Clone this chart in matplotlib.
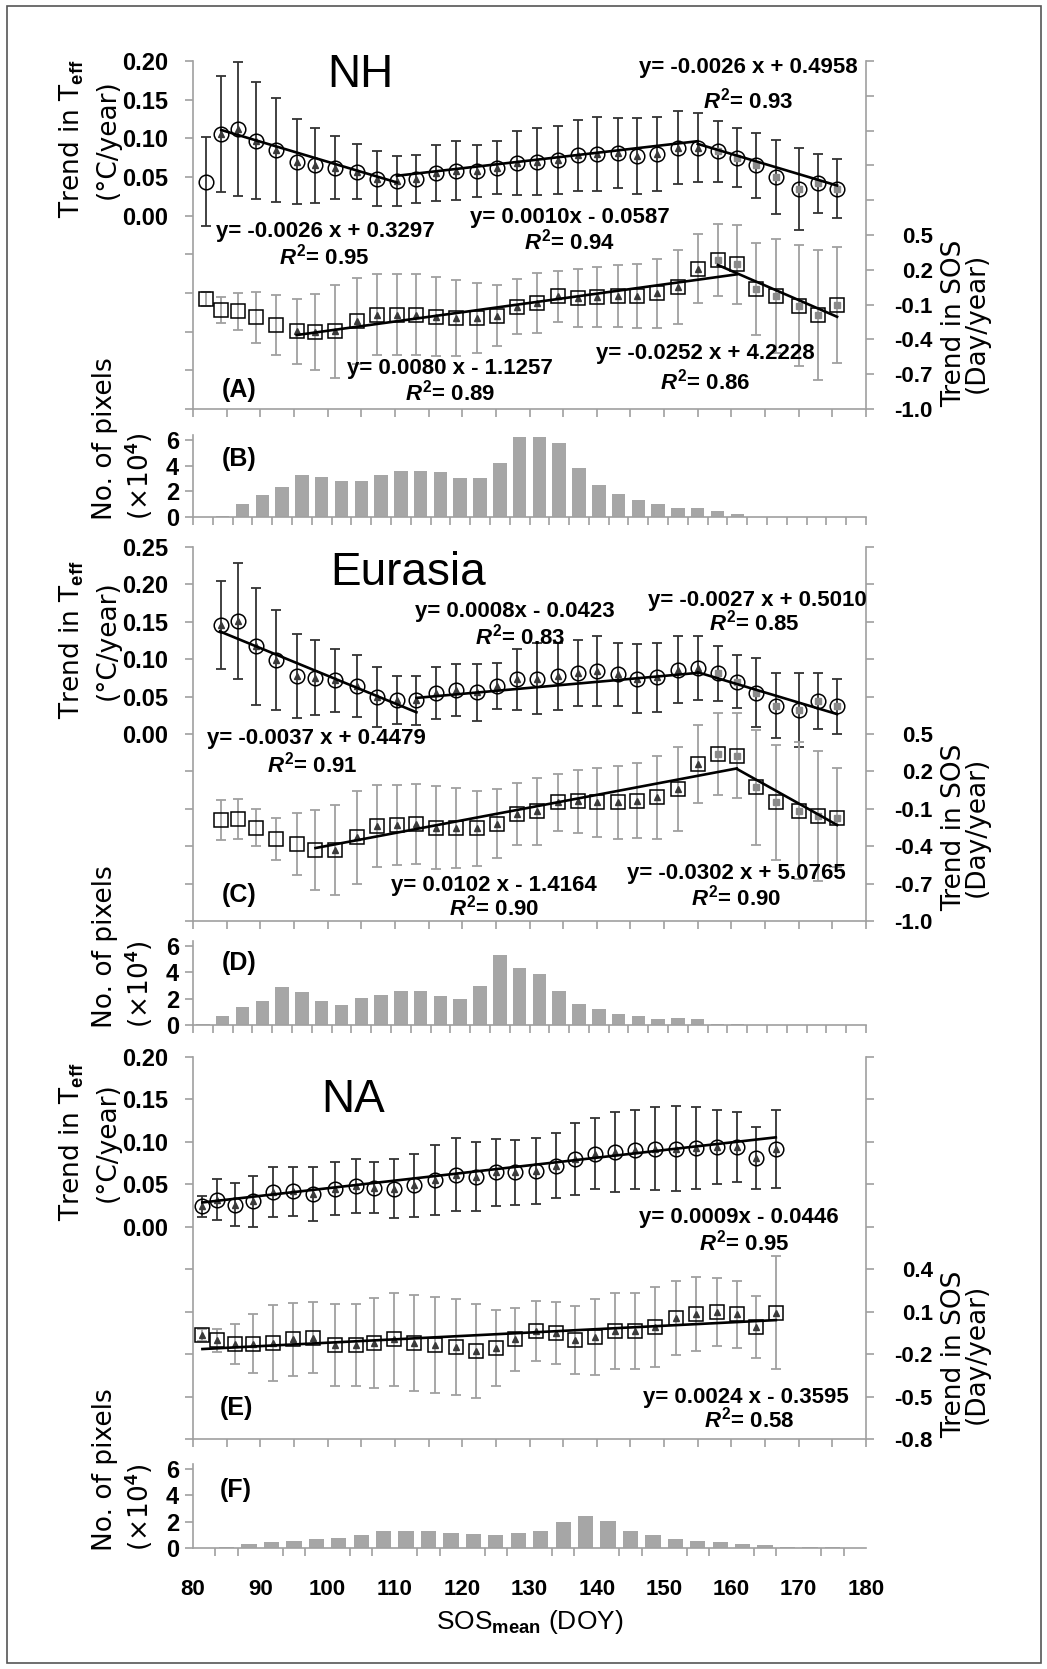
import matplotlib
matplotlib.use("Agg")
import matplotlib.pyplot as plt
import numpy as np
from matplotlib.patches import Rectangle
from matplotlib.ticker import FuncFormatter

W, H = 1047, 1669
L, R = 193, 866  # x of left / right spines in pixels

BOLD = ['Liberation Sans', 'DejaVu Sans']
PLAIN = ['DejaVu Sans']

plt.rcParams['font.family'] = BOLD
plt.rcParams['font.weight'] = 'bold'
plt.rcParams['mathtext.fontset'] = 'custom'
plt.rcParams['mathtext.rm'] = 'Liberation Sans:bold'
plt.rcParams['mathtext.it'] = 'Liberation Sans:italic:bold'
plt.rcParams['mathtext.bf'] = 'Liberation Sans:bold'

# ---------------- data ----------------
# NH (panels A, B)
nh_x = [82.0, 84.2, 86.7, 89.4, 92.3, 95.4, 98.2, 101.1, 104.4, 107.3, 110.3, 113.2, 116.1, 119.1, 122.2, 125.2,
        128.2, 131.1, 134.2, 137.2, 140.1, 143.1, 146.0, 149.0, 152.0, 155.0, 158.0, 160.8, 163.7, 166.6, 170.0,
        172.9, 175.7]
nh_teff = [0.044, 0.105, 0.112, 0.097, 0.085, 0.070, 0.065, 0.062, 0.057, 0.048, 0.045, 0.047, 0.055, 0.058, 0.058,
           0.062, 0.068, 0.070, 0.072, 0.078, 0.080, 0.081, 0.077, 0.080, 0.088, 0.088, 0.083, 0.075, 0.065, 0.050,
           0.035, 0.042, 0.035]
nh_teff_err = [0.058, 0.075, 0.087, 0.076, 0.067, 0.055, 0.048, 0.041, 0.036, 0.035, 0.032, 0.031, 0.036, 0.038,
               0.034, 0.034, 0.041, 0.043, 0.044, 0.046, 0.048, 0.045, 0.049, 0.048, 0.047, 0.045, 0.039, 0.038,
               0.042, 0.048, 0.053, 0.038, 0.038]
nh_teff_grp = "n" + "t" * 25 + "s" * 7
nh_sos = [-0.050, -0.146, -0.157, -0.209, -0.274, -0.329, -0.337, -0.329, -0.243, -0.186, -0.186, -0.186, -0.203,
          -0.214, -0.217, -0.194, -0.117, -0.089, -0.029, -0.046, -0.037, -0.026, -0.026, -0.003, 0.049, 0.211,
          0.283, 0.249, 0.034, -0.023, -0.109, -0.186, -0.100]
nh_sos_err = [0.06, 0.11, 0.16, 0.22, 0.26, 0.28, 0.33, 0.40, 0.37, 0.35, 0.35, 0.35, 0.34, 0.33, 0.30, 0.26, 0.24,
              0.26, 0.22, 0.25, 0.26, 0.27, 0.28, 0.30, 0.32, 0.30, 0.31, 0.34, 0.40, 0.49, 0.52, 0.56, 0.50]
nh_sos_grp = "n" * 5 + "t" * 21 + "s" * 7
nh_teff_fits = [(-0.0026, 0.3297, 84.2, 110.3), (0.0010, -0.0587, 110.3, 155.0), (-0.0026, 0.4958, 155.0, 175.7)]
nh_sos_fits = [(0.0080, -1.1257, 95.4, 160.8), (-0.0252, 4.2228, 158.0, 175.7)]
nh_pixels = [0, 0.05, 1.0, 1.7, 2.3, 3.3, 3.1, 2.8, 2.8, 3.3, 3.6, 3.6, 3.5, 3.0, 3.0, 4.2, 6.2, 6.2, 5.8, 3.8, 2.5,
             1.8, 1.3, 1.0, 0.7, 0.7, 0.5, 0.2, 0, 0, 0, 0, 0, 0]

# Eurasia (panels C, D)
eu_x = nh_x[1:]
eu_teff = [0.146, 0.151, 0.117, 0.099, 0.078, 0.075, 0.072, 0.064, 0.050, 0.046, 0.045, 0.055, 0.059, 0.056, 0.064,
           0.073, 0.074, 0.077, 0.081, 0.084, 0.080, 0.074, 0.076, 0.086, 0.088, 0.081, 0.070, 0.055, 0.038, 0.032,
           0.044, 0.037]
eu_teff_err = [0.059, 0.078, 0.078, 0.067, 0.056, 0.050, 0.042, 0.041, 0.040, 0.032, 0.033, 0.035, 0.035, 0.038,
               0.031, 0.041, 0.047, 0.045, 0.044, 0.047, 0.042, 0.046, 0.046, 0.045, 0.043, 0.037, 0.035, 0.046,
               0.044, 0.049, 0.037, 0.037]
eu_teff_grp = "t" * 25 + "s" * 7
eu_sos = [-0.191, -0.183, -0.250, -0.344, -0.384, -0.432, -0.432, -0.330, -0.236, -0.228, -0.223, -0.250, -0.255,
          -0.255, -0.218, -0.143, -0.121, -0.049, -0.041, -0.049, -0.049, -0.036, -0.009, 0.058, 0.259, 0.340,
          0.326, 0.072, -0.049, -0.116, -0.156, -0.170]
eu_sos_err = [0.16, 0.16, 0.15, 0.17, 0.25, 0.32, 0.36, 0.37, 0.33, 0.32, 0.32, 0.33, 0.32, 0.30, 0.28, 0.25, 0.27,
              0.23, 0.25, 0.28, 0.29, 0.30, 0.33, 0.34, 0.31, 0.33, 0.34, 0.46, 0.46, 0.55, 0.52, 0.40]
eu_sos_grp = "n" * 6 + "t" * 19 + "s" * 7
eu_teff_fits = [(-0.0037, 0.4479, 84.0, 113.2), (0.0008, -0.0423, 113.2, 155.0), (-0.0027, 0.5010, 155.0, 175.7)]
eu_sos_fits = [(0.0102, -1.4164, 98.2, 160.8), (-0.0302, 5.0765, 160.8, 175.7)]
eu_pixels = [0.1, 0.7, 1.35, 1.8, 2.9, 2.5, 1.8, 1.55, 2.05, 2.3, 2.55, 2.55, 2.2, 1.95, 3.0, 5.3, 4.3, 3.9, 2.55,
             1.6, 1.2, 0.85, 0.65, 0.45, 0.5, 0.45, 0.1, 0.05, 0, 0, 0, 0, 0, 0]

# NA (panels E, F)
na_x = [81.4, 83.5, 86.3, 88.9, 91.9, 94.9, 97.9, 101.1, 104.2, 106.9, 109.9, 112.8, 116.0, 119.1, 122.0, 125.0,
        127.9, 130.9, 133.9, 136.8, 139.8, 142.7, 145.7, 148.7, 151.8, 154.8, 157.8, 160.8, 163.7, 166.6]
na_teff = [0.024, 0.032, 0.026, 0.030, 0.041, 0.042, 0.039, 0.045, 0.048, 0.046, 0.045, 0.049, 0.055, 0.061, 0.059,
           0.064, 0.064, 0.066, 0.072, 0.080, 0.086, 0.088, 0.091, 0.092, 0.092, 0.093, 0.094, 0.094, 0.081, 0.092]
na_teff_err = [0.012, 0.024, 0.025, 0.030, 0.029, 0.029, 0.032, 0.031, 0.032, 0.030, 0.035, 0.037, 0.041, 0.043,
               0.041, 0.039, 0.038, 0.039, 0.038, 0.042, 0.042, 0.047, 0.046, 0.049, 0.050, 0.048, 0.044, 0.041,
               0.037, 0.046]
na_teff_grp = "t" * 30
na_sos = [-0.066, -0.103, -0.127, -0.127, -0.120, -0.096, -0.085, -0.136, -0.136, -0.120, -0.096, -0.120, -0.136,
          -0.151, -0.179, -0.155, -0.096, -0.038, -0.049, -0.103, -0.080, -0.038, -0.038, -0.009, 0.057, 0.085,
          0.099, 0.080, -0.009, 0.092]
na_sos_err = [0.04, 0.08, 0.14, 0.21, 0.27, 0.26, 0.25, 0.29, 0.29, 0.32, 0.33, 0.34, 0.34, 0.34, 0.33, 0.27, 0.22,
              0.21, 0.22, 0.24, 0.27, 0.27, 0.27, 0.28, 0.26, 0.26, 0.24, 0.24, 0.22, 0.40]
na_sos_grp = "t" * 30
na_teff_fits = [(0.0009, -0.0446, 81.4, 166.6)]
na_sos_fits = [(0.0024, -0.3595, 81.4, 166.6)]
na_pixels = [0.03, 0.1, 0.3, 0.45, 0.55, 0.65, 0.75, 0.95, 1.3, 1.3, 1.3, 1.15, 1.05, 0.95, 1.15, 1.3, 1.95, 2.45,
             2.05, 1.3, 0.95, 0.65, 0.55, 0.45, 0.3, 0.2, 0.1, 0.1, 0.05, 0.03]

SPINE = '#a0a0a0'

fig = plt.figure(figsize=(W / 100, H / 100), dpi=100)


def add_axes(top, bottom):
    return fig.add_axes([L / W, 1 - bottom / H, (R - L) / W, (bottom - top) / H])


def ftext(x, y, s, **kw):
    fig.text(x / W, 1 - y / H, s, **kw)


def style_spines(ax, keep):
    for side in ['left', 'right', 'top', 'bottom']:
        ax.spines[side].set_visible(side in keep)
        ax.spines[side].set_color(SPINE)
        ax.spines[side].set_linewidth(1.2)


def draw_series(ax, x, y, err, grp, shape, ecolor, ms):
    x = np.asarray(x)
    y = np.asarray(y)
    ax.errorbar(x, y, yerr=err, fmt='none', ecolor=ecolor, elinewidth=1.3, capsize=3.5, capthick=1.3, zorder=2)
    ax.plot(x, y, shape, ms=ms, mfc='none', mec='black', mew=1.1, zorder=3)
    g = np.array(list(grp))
    ax.plot(x[g == 't'], y[g == 't'], '^', ms=4.5, color='#3a3a3a', zorder=3)
    ax.plot(x[g == 's'], y[g == 's'], 's', ms=5, color='#8a8a8a', zorder=3)


def draw_fits(ax, fits):
    for k, b, x0, x1 in fits:
        xs = np.array([x0, x1])
        ax.plot(xs, k * xs + b, color='black', lw=1.9, zorder=4)


def trend_panel(top, bottom, tlim, slim, s_label_max, data, fits):
    x, teff, teff_err, tgrp, sos, sos_err, sgrp = data
    ax = add_axes(top, bottom)
    ax.set_xlim(80, 180)
    ax.set_ylim(*tlim)
    ax.set_yticks(np.round(np.arange(tlim[0], tlim[1] + 1e-9, 0.05), 2))

    def lfmt(v, p):
        if abs(v) < 1e-9:
            v = 0.0
        return f"{v:.2f}" if v >= 0 else ""
    ax.yaxis.set_major_formatter(FuncFormatter(lfmt))
    ax.set_xticks(np.arange(80, 181, 5))
    ax.set_xticklabels([])
    style_spines(ax, ['left', 'bottom'])
    ax.tick_params(axis='y', direction='out', length=6, width=1.2, color=SPINE, pad=12, labelsize=17)
    ax.tick_params(axis='x', direction='out', length=6, width=1.2, color=SPINE)

    ax2 = ax.twinx()
    ax2.set_ylim(*slim)
    ax2.set_yticks(np.round(np.arange(slim[0], slim[1] + 1e-9, 0.3), 2))
    ax2.yaxis.set_major_formatter(FuncFormatter(
        lambda v, p: f"{v:.1f}" if v <= s_label_max + 1e-9 else ""))
    style_spines(ax2, ['right'])
    ax2.tick_params(axis='y', direction='out', length=6, width=1.2, color=SPINE, pad=42, labelsize=16)
    for t in ax2.yaxis.get_major_ticks():
        t.label2.set_horizontalalignment('right')

    draw_series(ax, x, teff, teff_err, tgrp, 'o', '#333333', 10.5)
    draw_series(ax2, x, sos, sos_err, sgrp, 's', '#a0a0a0', 10)
    draw_fits(ax, fits[0])
    draw_fits(ax2, fits[1])
    return ax


def bar_panel(six_px, zero_px, vals, labels=False):
    per = (zero_px - six_px) / 6.0
    top = zero_px - 6.4 * per
    ax = add_axes(top, zero_px)
    n = len(vals)
    bw = 100.0 / n
    centers = 80 + bw * (np.arange(n) + 0.5)
    ax.bar(centers, vals, width=bw * 0.68, color='#a6a6a6', zorder=2)
    ax.set_xlim(80, 180)
    ax.set_ylim(0, 6.4)
    ax.set_yticks([0, 2, 4, 6])
    style_spines(ax, ['left', 'bottom'])
    ax.set_xticks(80 + bw * np.arange(n + 1), minor=True)
    if labels:
        ax.set_xticks(np.arange(80, 181, 10))
        ax.set_xticklabels([str(v) for v in range(80, 181, 10)])
    else:
        ax.set_xticks([])
    ax.tick_params(axis='y', direction='out', length=6, width=1.2, color=SPINE, pad=4, labelsize=17)
    ax.tick_params(axis='x', which='minor', direction='out', length=6, width=1.2, color=SPINE)
    ax.tick_params(axis='x', which='major', length=0, pad=22, labelsize=16)
    return ax


# panels A / B
trend_panel(61, 409, (-0.25, 0.20), (-1.0, 2.0), 0.5,
            (nh_x, nh_teff, nh_teff_err, nh_teff_grp, nh_sos, nh_sos_err, nh_sos_grp),
            (nh_teff_fits, nh_sos_fits))
bar_panel(440, 517, nh_pixels)

# panels C / D
trend_panel(547, 921, (-0.25, 0.25), (-1.0, 2.0), 0.5,
            (eu_x, eu_teff, eu_teff_err, eu_teff_grp, eu_sos, eu_sos_err, eu_sos_grp),
            (eu_teff_fits, eu_sos_fits))
bar_panel(946, 1025, eu_pixels)

# panels E / F
trend_panel(1057, 1439, (-0.25, 0.20), (-0.8, 1.9), 0.4,
            (na_x, na_teff, na_teff_err, na_teff_grp, na_sos, na_sos_err, na_sos_grp),
            (na_teff_fits, na_sos_fits))
bar_panel(1469, 1548, na_pixels, labels=True)

# region titles and panel letters
for s, x, y in [("NH", 360, 75), ("Eurasia", 408, 573), ("NA", 353, 1100)]:
    ftext(x, y, s, ha='center', va='center', fontsize=33, fontweight='normal')
for s, x, y in [("(A)", 239, 390), ("(B)", 239, 459), ("(C)", 239, 895), ("(D)", 239, 963),
                ("(E)", 236, 1408), ("(F)", 236, 1490)]:
    ftext(x, y, s, ha='center', va='center', fontsize=18)

# regression equations
eqs = [
    ("y= -0.0026 x + 0.4958", 748, 67), (r"$R^{2}$= 0.93", 748, 101),
    ("y= -0.0026 x + 0.3297", 325, 231), (r"$R^{2}$= 0.95", 324, 257),
    ("y= 0.0010x - 0.0587", 570, 218), (r"$R^{2}$= 0.94", 570, 242),
    ("y= 0.0080 x - 1.1257", 450, 368), (r"$R^{2}$= 0.89", 450, 393),
    ("y= -0.0252 x + 4.2228", 705, 354), (r"$R^{2}$= 0.86", 705, 382),
    ("y= 0.0008x - 0.0423", 515, 611), (r"$R^{2}$= 0.83", 520, 637),
    ("y= -0.0027 x + 0.5010", 757, 600), (r"$R^{2}$= 0.85", 754, 623),
    ("y= -0.0037 x + 0.4479", 316, 738), (r"$R^{2}$= 0.91", 312, 765),
    ("y= 0.0102 x - 1.4164", 494, 885), (r"$R^{2}$= 0.90", 494, 908),
    ("y= -0.0302 x + 5.0765", 736, 873), (r"$R^{2}$= 0.90", 736, 898),
    ("y= 0.0009x - 0.0446", 739, 1217), (r"$R^{2}$= 0.95", 744, 1243),
    ("y= 0.0024 x - 0.3595", 746, 1397), (r"$R^{2}$= 0.58", 749, 1420),
]
for s, x, y in eqs:
    ftext(x, y, s, ha='center', va='center', fontsize=16)

# axis titles
lab = dict(rotation=90, ha='center', va='center', fontsize=19, fontweight='normal', family=PLAIN)
for yc in [139, 640, 1142]:
    ftext(72, yc, r"Trend in T$_{\mathbf{eff}}$", **lab)
    ftext(108, yc, "(°C/year)", **lab)
for yc in [323, 827, 1354]:
    ftext(954, yc, "Trend in SOS", **lab)
    ftext(977, yc, "(Day/year)", **lab)
blab = dict(rotation=90, ha='center', va='bottom', fontsize=19, fontweight='normal', family=PLAIN)
for yb in [520, 1028, 1551]:
    ftext(105, yb, "No. of pixels", **blab)
    ftext(140, yb, r"(×10$^{4}$)", **blab)
ftext(530, 1622, r"SOS$_{\mathrm{mean}}$ (DOY)", ha='center', va='center', fontsize=19, fontweight='normal')

# outer frame
fig.patches.append(Rectangle((7 / W, 1 - 1663 / H), 1034 / W, 1657 / H, transform=fig.transFigure,
                             fill=False, ec='#555555', lw=1.2))

fig.savefig("out.png", dpi=100, facecolor='white')
